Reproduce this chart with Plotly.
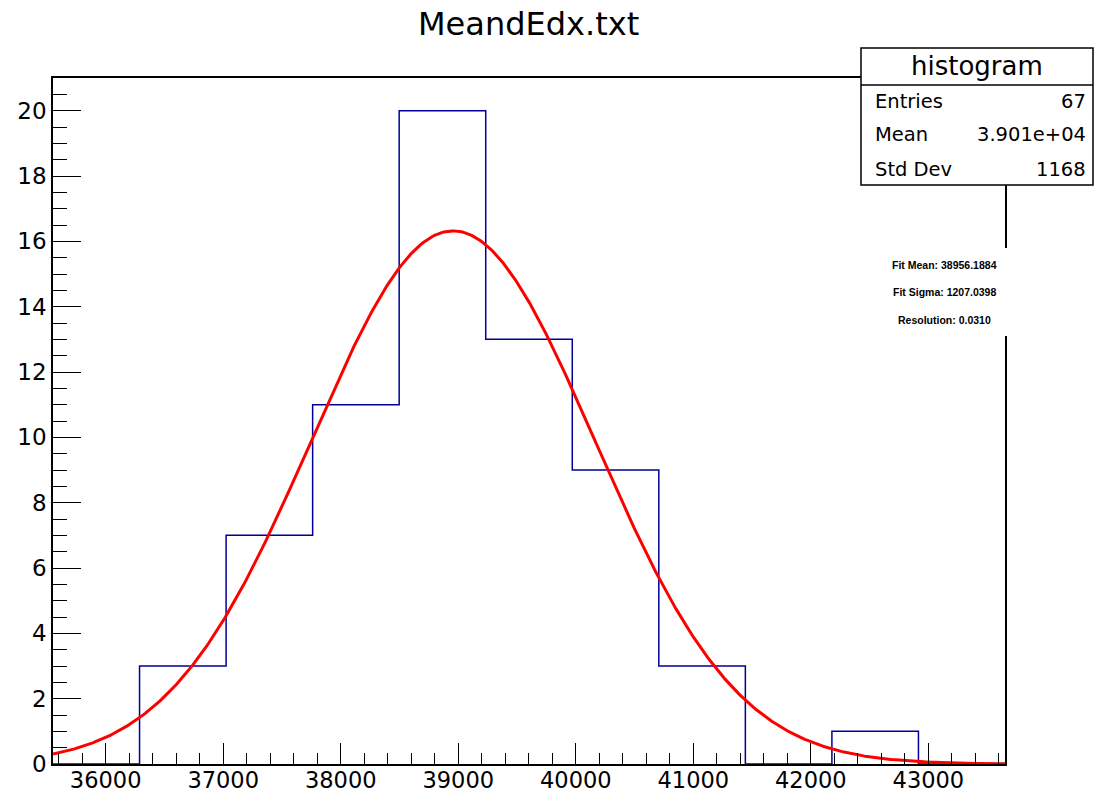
import numpy as np
import plotly.graph_objects as go

# ---- data ----
title_text = "MeandEdx.txt"
x_min = 35552.0
x_max = 43652.0
n_bins = 11
bin_counts = [0, 3, 7, 11, 20, 13, 9, 3, 0, 1, 0]

fit_constant = 16.32
fit_mean = 38956.1884
fit_sigma = 1207.0398
resolution = 0.0310

stats_name = "histogram"
stats_labels = ["Entries", "Mean", "Std Dev"]
stats_values = ["67", "3.901e+04", "1168"]

x_tick_vals = [36000, 37000, 38000, 39000, 40000, 41000, 42000, 43000]
y_tick_vals = [0, 2, 4, 6, 8, 10, 12, 14, 16, 18, 20]
y_range = [0, 21]

# ---- geometry (pixels) ----
W, H = 1094, 796
L, R, T, B = 53, 1005, 78, 764


def px(x):
    return (x - L) / (R - L)


def py(y):
    return (B - y) / (B - T)


edges = np.linspace(x_min, x_max, n_bins + 1)
step_x = list(edges)
step_y = list(bin_counts) + [bin_counts[-1]]

fx = np.linspace(x_min, x_max, 600)
fy = fit_constant * np.exp(-0.5 * ((fx - fit_mean) / fit_sigma) ** 2)

fig = go.Figure()
fig.add_trace(go.Scatter(x=step_x, y=step_y, mode="lines",
                         line=dict(color="#000099", width=1.5, shape="hv"),
                         hoverinfo="skip", showlegend=False))
fig.add_trace(go.Scatter(x=fx, y=fy, mode="lines",
                         line=dict(color="#ff0000", width=3),
                         hoverinfo="skip", showlegend=False))

font_main = "DejaVu Sans"

fig.update_layout(
    width=W, height=H,
    margin=dict(l=L, r=W - R, t=T, b=H - B, pad=0),
    paper_bgcolor="white", plot_bgcolor="white",
    showlegend=False,
    font=dict(family=font_main, color="black"),
)
fig.update_xaxes(
    range=[x_min, x_max], showgrid=False, zeroline=False, automargin=False,
    showline=True, linecolor="black", linewidth=1.5, mirror=True,
    ticks="inside", ticklen=21, tickwidth=1.2, tickcolor="black",
    tickvals=x_tick_vals, ticktext=[str(v) for v in x_tick_vals],
    tickfont=dict(size=22.5, family=font_main, color="black"),
    ticklabelstandoff=-5,
    minor=dict(dtick=200, tick0=0, ticks="inside", ticklen=11, tickwidth=1.2, tickcolor="black"),
)
fig.update_yaxes(
    range=y_range, showgrid=False, zeroline=False, automargin=False,
    showline=True, linecolor="black", linewidth=1.5, mirror=True,
    ticks="inside", ticklen=28, tickwidth=1.2, tickcolor="black",
    tickvals=y_tick_vals, ticktext=[str(v) for v in y_tick_vals],
    tickfont=dict(size=23, family=font_main, color="black"),
    minor=dict(dtick=0.5, tick0=0, ticks="inside", ticklen=14, tickwidth=1.2, tickcolor="black"),
)

shapes = []
annotations = []

# title
annotations.append(dict(x=px(528), y=py(24), xref="paper", yref="paper",
                        text=title_text, showarrow=False, xanchor="center", yanchor="middle",
                        font=dict(size=32, family=font_main, color="black")))

# stats box
sb_l, sb_r, sb_t, sb_b, sb_div = 861, 1093, 48, 185, 85
shapes.append(dict(type="rect", xref="paper", yref="paper",
                   x0=px(sb_l), x1=px(sb_r), y0=py(sb_b), y1=py(sb_t),
                   fillcolor="white", line=dict(color="black", width=1.5), layer="above"))
shapes.append(dict(type="line", xref="paper", yref="paper",
                   x0=px(sb_l), x1=px(sb_r), y0=py(sb_div), y1=py(sb_div),
                   line=dict(color="black", width=1.5), layer="above"))
annotations.append(dict(x=px((sb_l + sb_r) / 2), y=py(66), xref="paper", yref="paper",
                        text=stats_name, showarrow=False, xanchor="center", yanchor="middle",
                        font=dict(size=26, family=font_main, color="black")))
row_y = [101, 134, 169]
for lab, val, yy in zip(stats_labels, stats_values, row_y):
    annotations.append(dict(x=px(873), y=py(yy), xref="paper", yref="paper",
                            text=lab, showarrow=False, xanchor="left", yanchor="middle",
                            font=dict(size=19.5, family=font_main, color="black")))
    annotations.append(dict(x=px(1088), y=py(yy), xref="paper", yref="paper",
                            text=val, showarrow=False, xanchor="right", yanchor="middle",
                            font=dict(size=19.5, family=font_main, color="black")))

# fit text box (white, borderless, covers the frame)
shapes.append(dict(type="rect", xref="paper", yref="paper",
                   x0=px(868), x1=px(1008), y0=py(336), y1=py(248),
                   fillcolor="white", line=dict(width=0), layer="above"))
fit_lines = [f"Fit Mean: {fit_mean:.4f}", f"Fit Sigma: {fit_sigma:.4f}",
             f"Resolution: {resolution:.4f}"]
for txt, yy in zip(fit_lines, [265, 292, 320]):
    annotations.append(dict(x=px(944), y=py(yy), xref="paper", yref="paper",
                            text="<b>" + txt + "</b>", showarrow=False,
                            xanchor="center", yanchor="middle",
                            font=dict(size=10.5, family="Liberation Sans", color="black")))

fig.update_layout(shapes=shapes, annotations=annotations)
fig.write_html("out.html")
